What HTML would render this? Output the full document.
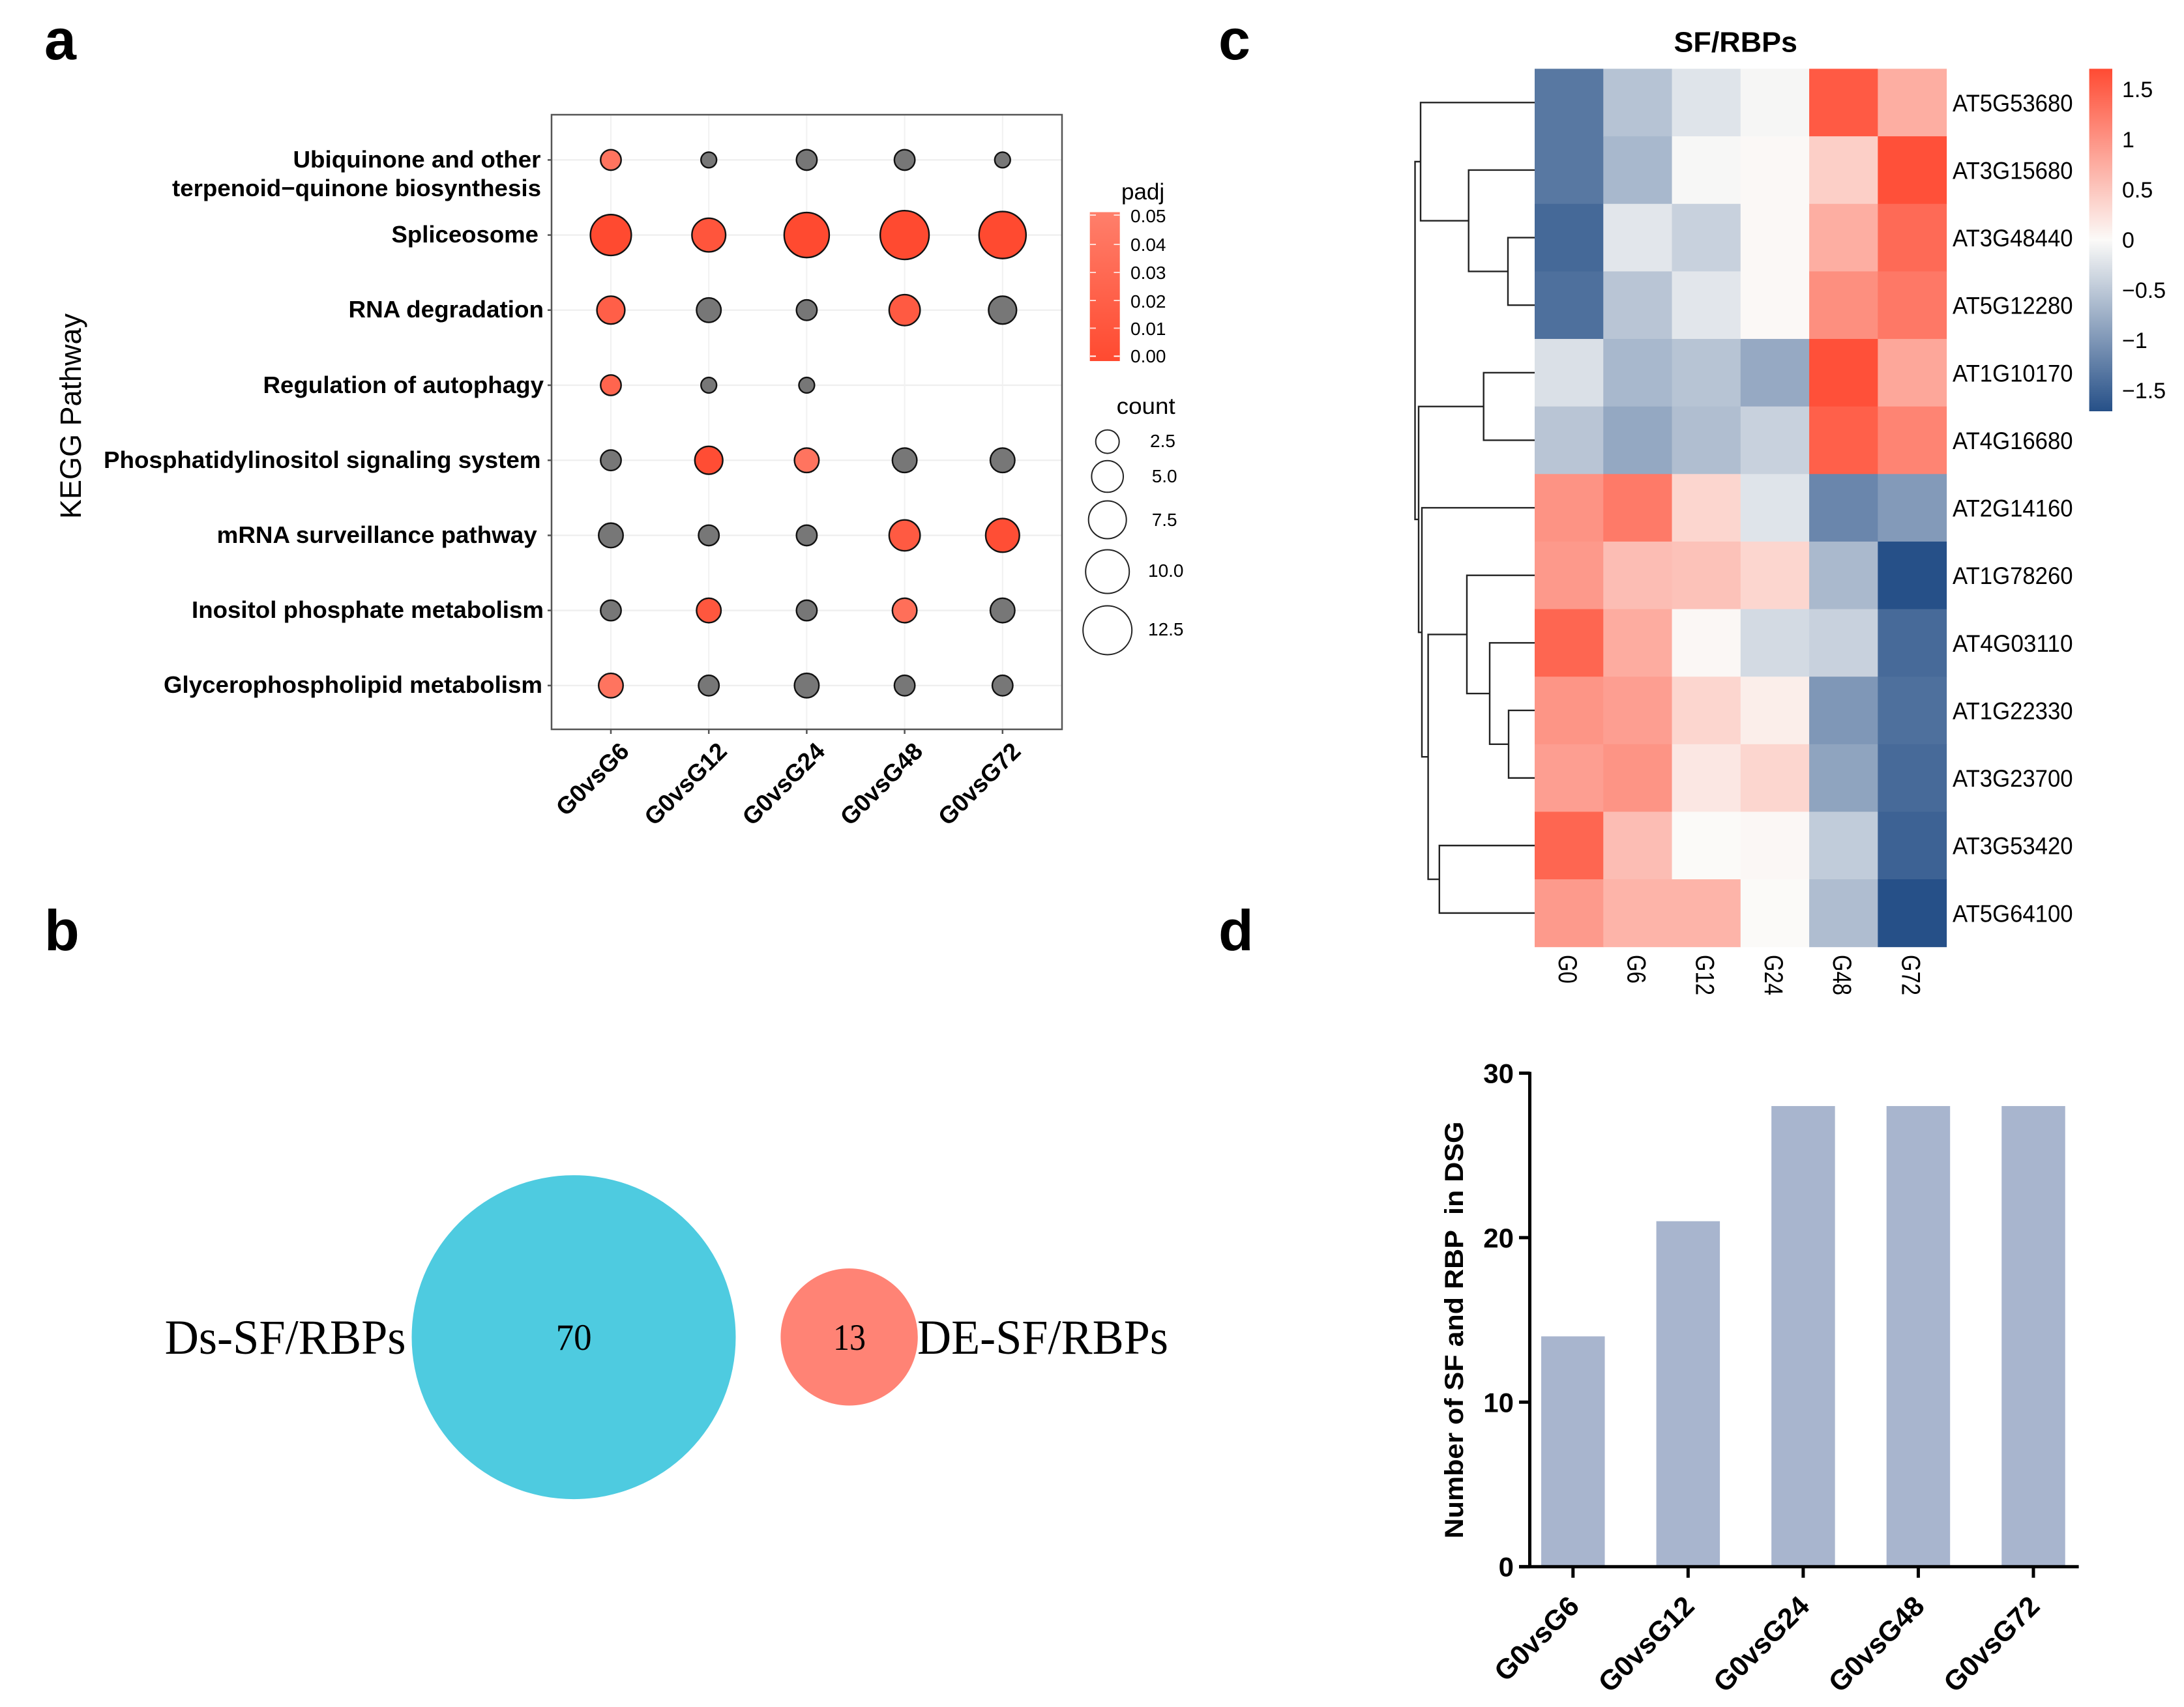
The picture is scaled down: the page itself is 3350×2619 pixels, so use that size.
<!DOCTYPE html>
<html lang="en">
<head>
<meta charset="utf-8">
<title>SF/RBP multi-panel figure</title>
<style>
html,body{margin:0;padding:0;background:#fff;}
svg{display:block;}
text{font-family:"Liberation Sans",Arial,sans-serif;fill:#000;}
.b{font-weight:bold;}
.serif{font-family:"Liberation Serif","Times New Roman",serif;}
</style>
</head>
<body>
<svg id="fig" xmlns="http://www.w3.org/2000/svg" width="3350" height="2619" viewBox="0 0 3350 2619">
<defs>
<linearGradient id="padjGrad" x1="0" y1="0" x2="0" y2="1"><stop offset="0" stop-color="#ff7f6b"/><stop offset="1" stop-color="#ff4a30"/></linearGradient>
<linearGradient id="heatGrad" x1="0" y1="0" x2="0" y2="1"><stop offset="0" stop-color="#ff4b33"/><stop offset="0.5" stop-color="#fbfaf8"/><stop offset="1" stop-color="#265088"/></linearGradient>
</defs>
<rect width="3350" height="2619" fill="#fff"/>

<text class="b" x="68" y="91" font-size="88">a</text>
<text class="b" x="68" y="1458" font-size="88">b</text>
<text class="b" x="1869" y="91" font-size="88">c</text>
<text class="b" x="1869" y="1458" font-size="88">d</text>

<!-- Panel a -->
<g id="dotPanel">
<g id="dotGrid"></g>
<rect x="846" y="176" width="783" height="943" fill="none" stroke="#555" stroke-width="2.5"/>
<g id="dotTicks"></g>
<g id="dotMarks"></g>
<g id="dotXLabels"></g>
<g class="b" font-size="36" font-weight="bold">
<text class="b" font-size="36" x="449.5" y="257" textLength="380" lengthAdjust="spacingAndGlyphs">Ubiquinone and other</text>
<text class="b" font-size="36" x="264" y="301" textLength="566" lengthAdjust="spacingAndGlyphs">terpenoid−quinone biosynthesis</text>
<text class="b" font-size="36" x="600.5" y="372" textLength="225.5" lengthAdjust="spacingAndGlyphs">Spliceosome</text>
<text class="b" font-size="36" x="534.5" y="487" textLength="299.5" lengthAdjust="spacingAndGlyphs">RNA degradation</text>
<text class="b" font-size="36" x="403.5" y="603" textLength="430.5" lengthAdjust="spacingAndGlyphs">Regulation of autophagy</text>
<text class="b" font-size="36" x="159" y="718" textLength="670.5" lengthAdjust="spacingAndGlyphs">Phosphatidylinositol signaling system</text>
<text class="b" font-size="36" x="332.7" y="833" textLength="491" lengthAdjust="spacingAndGlyphs">mRNA surveillance pathway</text>
<text class="b" font-size="36" x="294" y="948" textLength="540" lengthAdjust="spacingAndGlyphs">Inositol phosphate metabolism</text>
<text class="b" font-size="36" x="251" y="1063" textLength="581" lengthAdjust="spacingAndGlyphs">Glycerophospholipid metabolism</text>
</g>
<text transform="translate(124,638.5) rotate(-90)" text-anchor="middle" font-size="45">KEGG Pathway</text>

<g>
<text x="1720" y="306" font-size="35">padj</text>
<rect x="1671.7" y="325.5" width="46" height="228.5" fill="url(#padjGrad)"/>
<g stroke="#fff" stroke-opacity="0.75" stroke-width="2">
<path d="M1672 330h9M1708.5 330h9M1672 375h9M1708.5 375h9M1672 418h9M1708.5 418h9M1672 461h9M1708.5 461h9M1672 503.5h9M1708.5 503.5h9"/>
<path stroke-opacity="1" d="M1672 546.5h9M1708.5 546.5h9"/>
</g>
<g font-size="28">
<text x="1734" y="341" font-size="28">0.05</text>
<text x="1734" y="385" font-size="28">0.04</text>
<text x="1734" y="428" font-size="28">0.03</text>
<text x="1734" y="472" font-size="28">0.02</text>
<text x="1734" y="514" font-size="28">0.01</text>
<text x="1734" y="556" font-size="28">0.00</text>
</g>
</g>
<g>
<text x="1712.7" y="635" font-size="35" textLength="90" lengthAdjust="spacingAndGlyphs">count</text>
<g fill="none" stroke="#222" stroke-width="2">
<circle cx="1698.7" cy="677.6" r="18"/>
<circle cx="1698.7" cy="731" r="24.3"/>
<circle cx="1698.7" cy="797.5" r="29"/>
<circle cx="1698.7" cy="877" r="33.5"/>
<circle cx="1698.7" cy="967" r="37.5"/>
</g>
<text x="1764" y="686" font-size="28">2.5</text>
<text x="1766.7" y="740" font-size="28">5.0</text>
<text x="1766.7" y="807" font-size="28">7.5</text>
<text x="1761" y="885" font-size="28">10.0</text>
<text x="1761" y="975" font-size="28">12.5</text>
</g>
</g>

<!-- Panel b -->
<g>
<circle cx="880" cy="2051.6" r="248.5" fill="#4ecbe0"/>
<circle cx="1302.6" cy="2051.3" r="105.2" fill="#ff8375"/>
<text class="serif" x="252.6" y="2077" font-size="75" textLength="370" lengthAdjust="spacingAndGlyphs">Ds-SF/RBPs</text>
<text class="serif" x="1407" y="2077" font-size="75" textLength="385" lengthAdjust="spacingAndGlyphs">DE-SF/RBPs</text>
<text class="serif" x="852.6" y="2071" font-size="57" textLength="55" lengthAdjust="spacingAndGlyphs">70</text>
<text class="serif" x="1278" y="2071" font-size="57" textLength="50" lengthAdjust="spacingAndGlyphs">13</text>
</g>

<!-- Panel c -->
<g>
<text class="b" x="2567.5" y="79.6" font-size="44" textLength="189.5" lengthAdjust="spacingAndGlyphs">SF/RBPs</text>
<g id="dendro" fill="none" stroke="#222" stroke-width="2.4"></g>
<g id="heatCells"></g>
<g id="heatRowLabels"></g>
<g id="heatColLabels"></g>
<rect x="3204.6" y="105.5" width="35.4" height="525.5" fill="url(#heatGrad)"/>
<g id="heatLegendLabels"></g>
</g>

<!-- Panel d -->
<g>
<g id="barMarks"></g>
<g id="barAxes"></g>
<g id="barYLabels"></g>
<g id="barXLabels"></g>
<text class="b" transform="translate(2244,2040.5) rotate(-90)" text-anchor="middle" font-size="40" textLength="640" lengthAdjust="spacingAndGlyphs" style="white-space:pre">Number of SF and RBP  in DSG</text>
</g>
</svg>

<script>
// ---------- Panel a data ----------
const dotComparisons = ["G0vsG6", "G0vsG12", "G0vsG24", "G0vsG48", "G0vsG72"];
const countUbiquinone = [2, 1, 2, 2, 1];
const countSpliceosome = [9, 6, 11, 13, 12];
const countRnaDegradation = [4, 3, 2, 5, 4];
const countAutophagy = [2, 1, 1, null, null];
const countPhosphatidylinositol = [2, 4, 3, 3, 3];
const countMrnaSurveillance = [3, 2, 2, 5, 6];
const countInositol = [2, 3, 2, 3, 3];
const countGlycerophospholipid = [3, 2, 3, 2, 2];
const padjUbiquinone = [0.04, 0.3, 0.3, 0.3, 0.3];
const padjSpliceosome = [0.0, 0.01, 0.0, 0.0, 0.0];
const padjRnaDegradation = [0.02, 0.3, 0.3, 0.015, 0.3];
const padjAutophagy = [0.025, 0.3, 0.3, null, null];
const padjPhosphatidylinositol = [0.3, 0.003, 0.04, 0.3, 0.3];
const padjMrnaSurveillance = [0.3, 0.3, 0.3, 0.015, 0.004];
const padjInositol = [0.3, 0.012, 0.3, 0.035, 0.3];
const padjGlycerophospholipid = [0.04, 0.3, 0.3, 0.3, 0.3];
const dotCountRows = [countUbiquinone, countSpliceosome, countRnaDegradation, countAutophagy, countPhosphatidylinositol, countMrnaSurveillance, countInositol, countGlycerophospholipid];
const dotPadjRows = [padjUbiquinone, padjSpliceosome, padjRnaDegradation, padjAutophagy, padjPhosphatidylinositol, padjMrnaSurveillance, padjInositol, padjGlycerophospholipid];

// ---------- Panel c data ----------
const heatGenes = ["AT5G53680", "AT3G15680", "AT3G48440", "AT5G12280", "AT1G10170", "AT4G16680", "AT2G14160", "AT1G78260", "AT4G03110", "AT1G22330", "AT3G23700", "AT3G53420", "AT5G64100"];
const heatSamples = ["G0", "G6", "G12", "G24", "G48", "G72"];
const heatG0 = [-1.3, -1.3, -1.45, -1.38, -0.26, -0.53, 1.0, 0.94, 1.44, 0.98, 0.89, 1.44, 0.93];
const heatG6 = [-0.55, -0.66, -0.2, -0.53, -0.66, -0.82, 1.24, 0.59, 0.76, 0.89, 0.99, 0.59, 0.68];
const heatG12 = [-0.22, -0.03, -0.41, -0.2, -0.54, -0.6, 0.35, 0.54, 0.03, 0.35, 0.18, 0.0, 0.68];
const heatG24 = [-0.04, 0.02, 0.02, 0.02, -0.81, -0.41, -0.22, 0.35, -0.32, 0.12, 0.35, 0.03, 0.0];
const heatG48 = [1.55, 0.42, 0.74, 1.04, 1.65, 1.5, -1.16, -0.65, -0.41, -0.99, -0.86, -0.46, -0.61];
const heatG72 = [0.74, 1.65, 1.4, 1.26, 0.81, 1.15, -0.96, -1.7, -1.44, -1.38, -1.44, -1.52, -1.7];
const heatColumns = [heatG0, heatG6, heatG12, heatG24, heatG48, heatG72];
const heatLegendTicks = [1.5, 1, 0.5, 0, -0.5, -1, -1.5];
const heatLegendText = ["1.5", "1", "0.5", "0", "−0.5", "−1", "−1.5"];
// hclust-style merges: negative = leaf (1-based), positive = earlier merge (1-based)
const dendroLeft = [-3, -2, -1, -5, -10, -9, -8, -12, 7, -7, 4, 3];
const dendroRight = [-4, 1, 2, -6, -11, 5, 6, -13, 8, 9, 10, 11];
const dendroHeight = [41, 101.3, 175, 78.3, 40, 69, 104, 146.2, 163.4, 173, 178, 183.5];

// ---------- Panel d data ----------
const barCategories = ["G0vsG6", "G0vsG12", "G0vsG24", "G0vsG48", "G0vsG72"];
const barValues = [14, 21, 28, 28, 28];
const barTicks = [0, 10, 20, 30];

// ---------- helpers ----------
const NS = "http://www.w3.org/2000/svg";
function mk(tag, attrs, parent) {
  const n = document.createElementNS(NS, tag);
  for (const k in attrs) n.setAttribute(k, attrs[k]);
  parent.appendChild(n);
  return n;
}
function byId(id) { return document.getElementById(id); }
function mix(a, b, t) {
  const r = a.map((v, i) => Math.round(v + (b[i] - v) * t));
  return "rgb(" + r.join(",") + ")";
}

// ---------- Panel a scales ----------
const xDot = i => 937 + i * 150.2;
const yDot = j => 245.4 + j * 115.2;
const sizeDot = c => Math.sqrt(150 + 420 * c);
const colorDot = p => p > 0.05 ? "#777777" : mix([255, 74, 48], [255, 127, 107], p / 0.05);

dotCountRows.forEach((row, j) => {
  const g = mk("line", {x1: 846, x2: 1629, y1: yDot(j), y2: yDot(j), stroke: "#eeeeee", "stroke-width": 2.2}, byId("dotGrid"));
  
  
  const t = mk("line", {x1: 840, x2: 846, y1: yDot(j), y2: yDot(j), stroke: "#555", "stroke-width": 2.5}, byId("dotTicks"));
  
  
});
dotComparisons.forEach((name, i) => {
  const g = mk("line", {x1: xDot(i), x2: xDot(i), y1: 176, y2: 1119, stroke: "#f1f1f1", "stroke-width": 2}, byId("dotGrid"));
  
  
  const t = mk("line", {x1: xDot(i), x2: xDot(i), y1: 1119, y2: 1126, stroke: "#555", "stroke-width": 2.5}, byId("dotTicks"));
  
  
  const l = mk("text", {transform: "translate(" + (xDot(i) + 30) + ",1155) rotate(-45)", "text-anchor": "end", "font-size": 37, "font-weight": "bold"}, byId("dotXLabels"));
  
  
  l.textContent = name;
});
dotCountRows.forEach((row, j) => {
  row.forEach((count, i) => {
    if (count === null) return;
    const c = mk("circle", {cx: xDot(i), cy: yDot(j), r: sizeDot(count) / 2, fill: colorDot(dotPadjRows[j][i]), stroke: "#111", "stroke-width": 2.4}, byId("dotMarks"));
    
    
  });
});

// ---------- Panel c scales ----------
const HEAT_LEFT = 2354, HEAT_TOP = 105.5, CELL_W = 105.27, CELL_H = 103.63;
const xHeat = i => HEAT_LEFT + i * CELL_W;
const yHeat = j => HEAT_TOP + j * CELL_H;
const yHeatLegend = v => 368 - 154 * v;
function heatColor(v) {
  const t = Math.min(1, Math.abs(v) / 1.7);
  return v >= 0 ? mix([251, 250, 248], [255, 75, 51], t) : mix([251, 250, 248], [38, 80, 136], t);
}
heatColumns.forEach((col, i) => {
  col.forEach((v, j) => {
    const r = mk("rect", {x: xHeat(i), y: yHeat(j), width: CELL_W + 0.5, height: CELL_H + 0.5, fill: heatColor(v)}, byId("heatCells"));
    
    
  });
});
heatGenes.forEach((gene, j) => {
  const t = mk("text", {x: 2995, y: yHeat(j) + CELL_H / 2 + 13.5, "font-size": 37, textLength: 184.6, lengthAdjust: "spacingAndGlyphs"}, byId("heatRowLabels"));
  
  
  t.textContent = gene;
});
heatSamples.forEach((s, i) => {
  const t = mk("text", {transform: "translate(" + (xHeat(i) + CELL_W / 2 - 15.5) + ",1465) rotate(90)", "font-size": 40, textLength: s.length * 18 + 8, lengthAdjust: "spacingAndGlyphs"}, byId("heatColLabels"));
  
  
  t.textContent = s;
});
heatLegendTicks.forEach((v, i) => {
  const t = mk("text", {x: 3255, y: yHeatLegend(v) + 12, "font-size": 34}, byId("heatLegendLabels"));
  
  
  t.textContent = heatLegendText[i];
});
const dendroNodes = [];
function dendroPoint(ref) {
  if (ref < 0) return {x: HEAT_LEFT, y: yHeat(-ref - 1) + CELL_H / 2};
  return dendroNodes[ref - 1];
}
dendroHeight.forEach((h, k) => {
  const a = dendroPoint(dendroLeft[k]);
  const b = dendroPoint(dendroRight[k]);
  const x = HEAT_LEFT - h;
  const p = mk("path", {d: "M" + a.x + " " + a.y + "H" + x + "V" + b.y + "H" + b.x}, byId("dendro"));
  
  
  dendroNodes.push({x: x, y: (a.y + b.y) / 2});
});

// ---------- Panel d scales ----------
const yBar = v => 2403.7 - v * 25.24;
const xBar = i => 2412.8 + i * 176.55;
const BAR_W = 97.5;
barValues.forEach((v, i) => {
  const r = mk("rect", {x: xBar(i) - BAR_W / 2, y: yBar(v), width: BAR_W, height: yBar(0) - yBar(v), fill: "#a8b5ce"}, byId("barMarks"));
  
  
});
const barYAxis = mk("line", {x1: 2346.5, x2: 2346.5, y1: yBar(30) - 2, y2: yBar(0) + 2, stroke: "#000", "stroke-width": 5}, byId("barAxes"));


const barXAxis = mk("line", {x1: 2330, x2: 3188.6, y1: yBar(0), y2: yBar(0), stroke: "#000", "stroke-width": 5}, byId("barAxes"));


barTicks.forEach(v => {
  const t = mk("line", {x1: 2330, x2: 2346.5, y1: yBar(v), y2: yBar(v), stroke: "#000", "stroke-width": 5}, byId("barAxes"));
  
  
  const l = mk("text", {x: 2322, y: yBar(v) + 15, "text-anchor": "end", "font-size": 42, "font-weight": "bold"}, byId("barYLabels"));
  
  
  l.textContent = v;
});
barCategories.forEach((name, i) => {
  const t = mk("line", {x1: xBar(i), x2: xBar(i), y1: yBar(0), y2: yBar(0) + 17, stroke: "#000", "stroke-width": 5}, byId("barAxes"));
  
  
  const l = mk("text", {transform: "translate(" + (xBar(i) + 12) + ",2467) rotate(-45)", "text-anchor": "end", "font-size": 43, "font-weight": "bold"}, byId("barXLabels"));
  
  
  l.textContent = name;
});
</script>
</body>
</html>
